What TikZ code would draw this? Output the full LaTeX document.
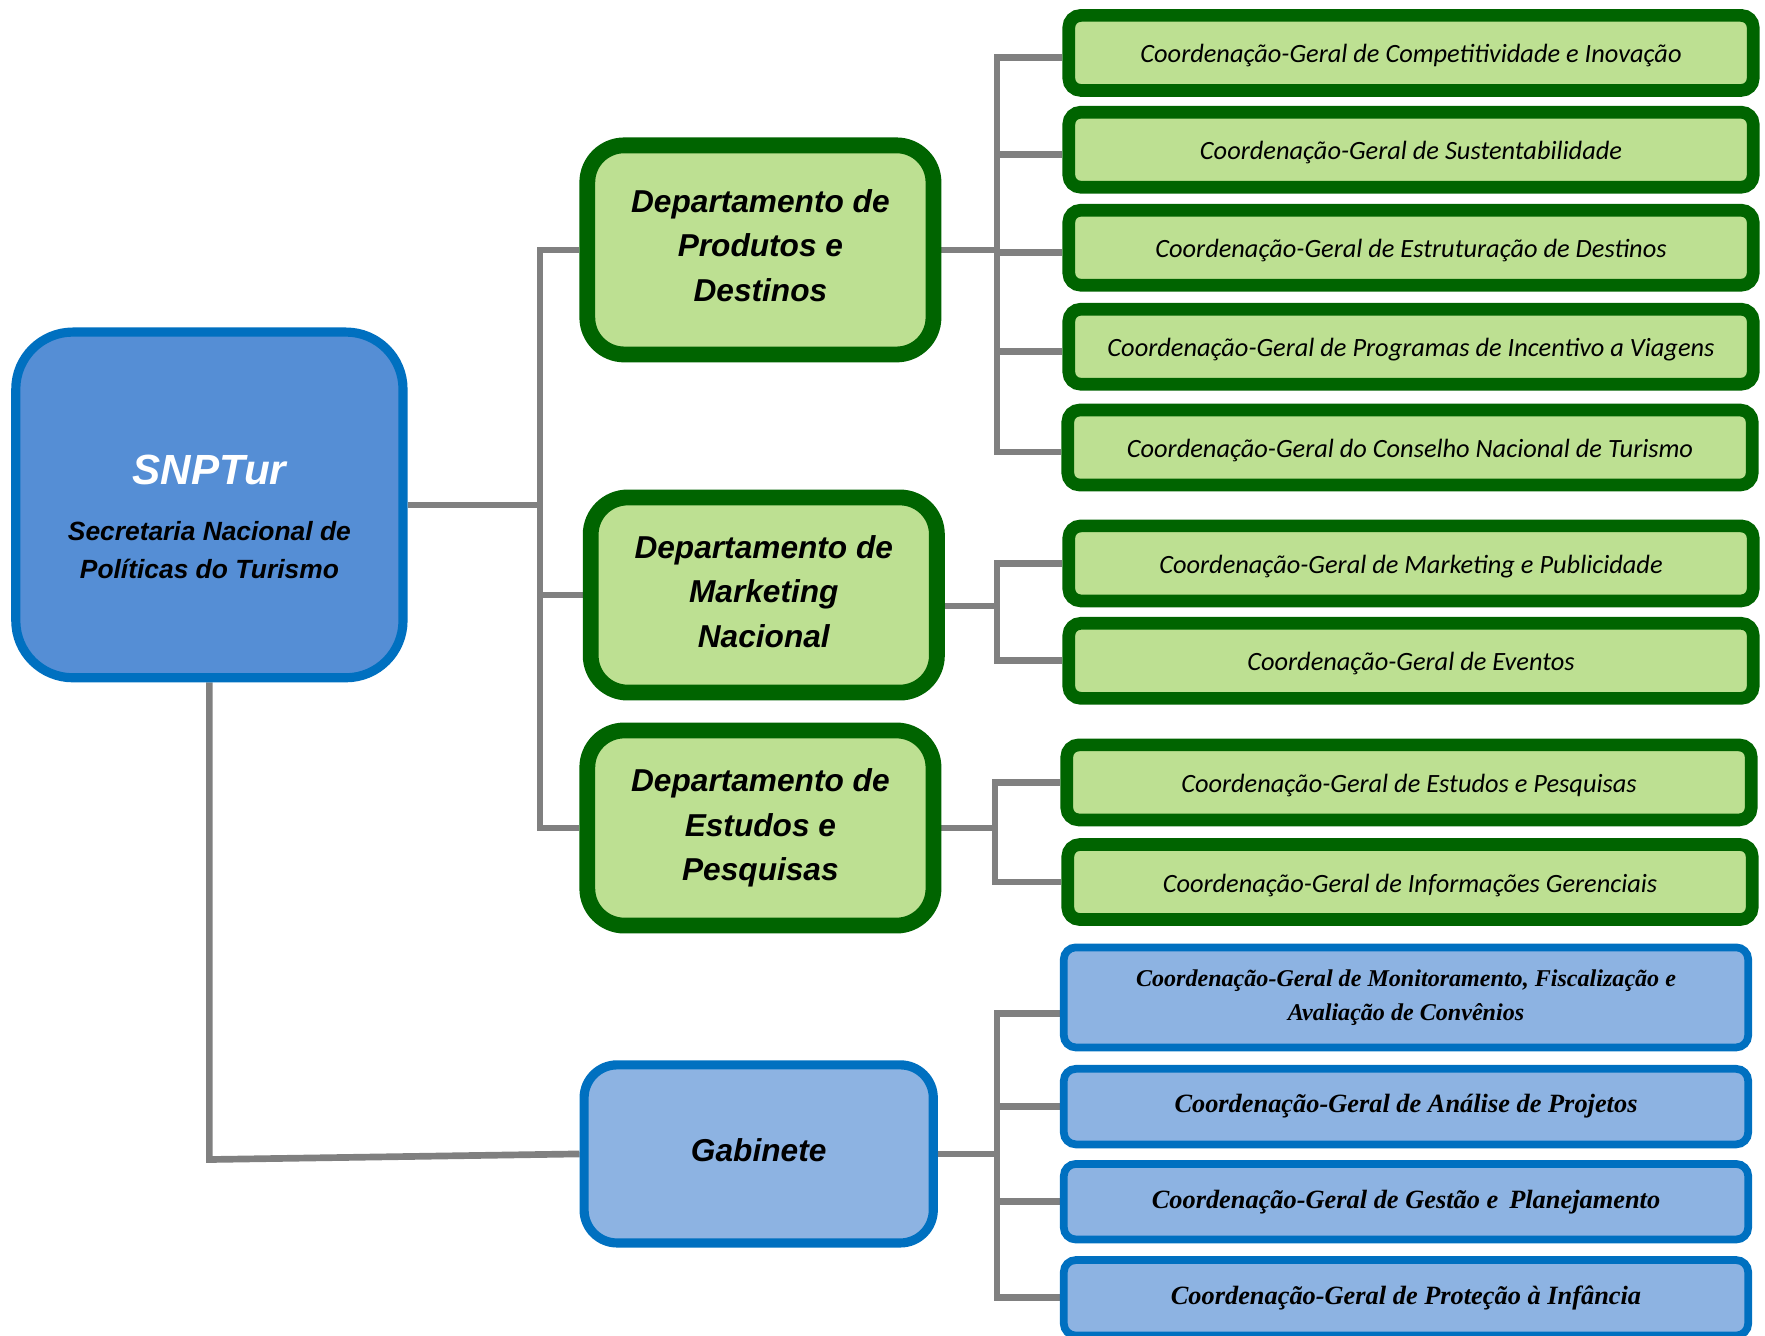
\documentclass[tikz,border=0pt]{standalone}
\usepackage{fontspec}
\setmainfont{Liberation Sans}
\newfontfamily\cgfont{Carlito}
\newfontfamily\gabfont{Liberation Serif}
\usepackage{tikz}
\usetikzlibrary{%
  positioning,%
  backgrounds%
}
\definecolor{snpblue}{RGB}{85,142,213}
\definecolor{lineblue}{RGB}{0,112,192}
\definecolor{gabblue}{RGB}{141,179,226}
\definecolor{dkgreen}{RGB}{0,100,0}
\definecolor{ltgreen}{RGB}{189,224,146}
\definecolor{linkgray}{RGB}{128,128,128}

\begin{document}
\begin{tikzpicture}[x=0.01cm, y=-0.01cm,
  root/.style={draw=lineblue, line width=2.6pt, fill=snpblue, rounded corners=0.57cm,
    minimum width=3.87cm, minimum height=3.455cm, inner sep=0pt, align=center,
    font=\fontsize{7.5}{10.8}\selectfont\bfseries\itshape},
  dept/.style={draw=dkgreen, line width=4.5pt, fill=ltgreen, rounded corners=0.37cm,
    minimum width=3.46cm, minimum height=1.95cm, inner sep=0pt, align=center,
    font=\fontsize{9}{12.7}\selectfont\bfseries\itshape},
  gabbox/.style={dept, draw=lineblue, line width=2.6pt, fill=gabblue,
    rounded corners=0.33cm, minimum width=3.49cm, minimum height=1.78cm},
  cgbox/.style={draw=dkgreen, line width=3.6pt, fill=ltgreen, rounded corners=0.12cm,
    minimum width=6.84cm, minimum height=0.75cm, inner sep=0pt, align=center,
    text height=0.57em, text depth=0pt,
    font=\cgfont\itshape\fontsize{7.5}{9}\selectfont},
  cgblue/.style={draw=lineblue, line width=2.2pt, fill=gabblue, rounded corners=0.12cm,
    minimum width=6.84cm, minimum height=0.755cm, inner sep=0pt, align=center,
    font=\gabfont\bfseries\itshape\fontsize{7.5}{9.6}\selectfont},
  link/.style={draw=linkgray, line width=1.9pt}]
\useasboundingbox (0,0) rectangle (1765,1335);

\node[root] (snptur) at (209.4,504.9) {\rule{0pt}{15.4pt}\textcolor{white}{\fontsize{12}{14}\selectfont SNPTur}\\[5.1pt]Secretaria Nacional de\\Políticas do Turismo};

\node[dept, minimum height=2.09cm] (dprod) at (760.4,249.9) {Departamento de\\Produtos e\\Destinos\rule[-2.5pt]{0pt}{0pt}};
\node[dept] (dmkt) at (763.8,595) {Departamento de\\Marketing\\Nacional\rule[-2pt]{0pt}{0pt}};
\node[dept] (dest) at (760.4,828) {Departamento de\\Estudos e\\Pesquisas};
\node[gabbox] (gab) at (758.7,1153.9) {Gabinete\rule[-2pt]{0pt}{0pt}};

\node[cgbox] (cgcomp) at (1411,52.9) {Coordenação-Geral de Competitividade e Inovação};
\node[cgbox] (cgsust) at (1411,149.7) {Coordenação-Geral de Sustentabilidade};
\node[cgbox] (cgestr) at (1411,247.7) {Coordenação-Geral de Estruturação de Destinos};
\node[cgbox] (cgprog) at (1411,346.7) {Coordenação-Geral de Programas de Incentivo a Viagens};
\node[cgbox] (cgcons) at (1410,447.5) {Coordenação-Geral do Conselho Nacional de Turismo};
\node[cgbox] (cgmkt) at (1411,563.4) {Coordenação-Geral de Marketing e Publicidade};
\node[cgbox] (cgeven) at (1411,660.8) {Coordenação-Geral de Eventos};
\node[cgbox] (cgpesq) at (1409,782.4) {Coordenação-Geral de Estudos e Pesquisas};
\node[cgbox] (cginfo) at (1410,882) {Coordenação-Geral de Informações Gerenciais};

\node[cgblue, minimum height=1.0cm, font=\gabfont\bfseries\itshape\fontsize{6.85}{9.6}\selectfont] (cgmon) at (1406,997.4) {Coordenação-Geral de Monitoramento, Fiscalização e\\Avaliação de Convênios};
\node[cgblue] (cganal) at (1406,1106.6) {Coordenação-Geral de Análise de Projetos};
\node[cgblue] (cggest) at (1406,1201.7) {Coordenação-Geral de Gestão e \,Planejamento};
\node[cgblue] (cginf) at (1406,1297.8) {Coordenação-Geral de Proteção à Infância};

% connectors behind the boxes
\begin{scope}[on background layer]
\coordinate (jroot) at (540,504.9);
\coordinate (jprod) at (997,249.9);
\coordinate (jmkt) at (997,606);
\coordinate (jest) at (995,828);
\coordinate (jgab) at (997,1153.9);
\coordinate (jgab0) at (209.4,1159.5);

\draw[link] (snptur.east) -- (jroot);
\foreach \d in {dprod,dmkt,dest}
  \draw[link] (jroot) |- (\d.west);
\draw[link] (snptur.south) -- (jgab0) -- (gab.west);

\draw[link] (dprod.east) -- (jprod);
\foreach \c in {cgcomp,cgsust,cgestr,cgprog,cgcons}
  \draw[link] (jprod) |- ([yshift=-1.3pt]\c.west);
\draw[link] (dmkt.east |- jmkt) -- (jmkt);
\foreach \c in {cgmkt,cgeven}
  \draw[link] (jmkt) |- (\c.west);
\draw[link] (dest.east) -- (jest);
\foreach \c in {cgpesq,cginfo}
  \draw[link] (jest) |- (\c.west);
\draw[link] (gab.east) -- (jgab);
\draw[link] (jgab) |- ([yshift=-4.5pt]cgmon.west);
\foreach \c in {cganal,cggest,cginf}
  \draw[link] (jgab) |- (\c.west);
\end{scope}
\end{tikzpicture}
\end{document}
